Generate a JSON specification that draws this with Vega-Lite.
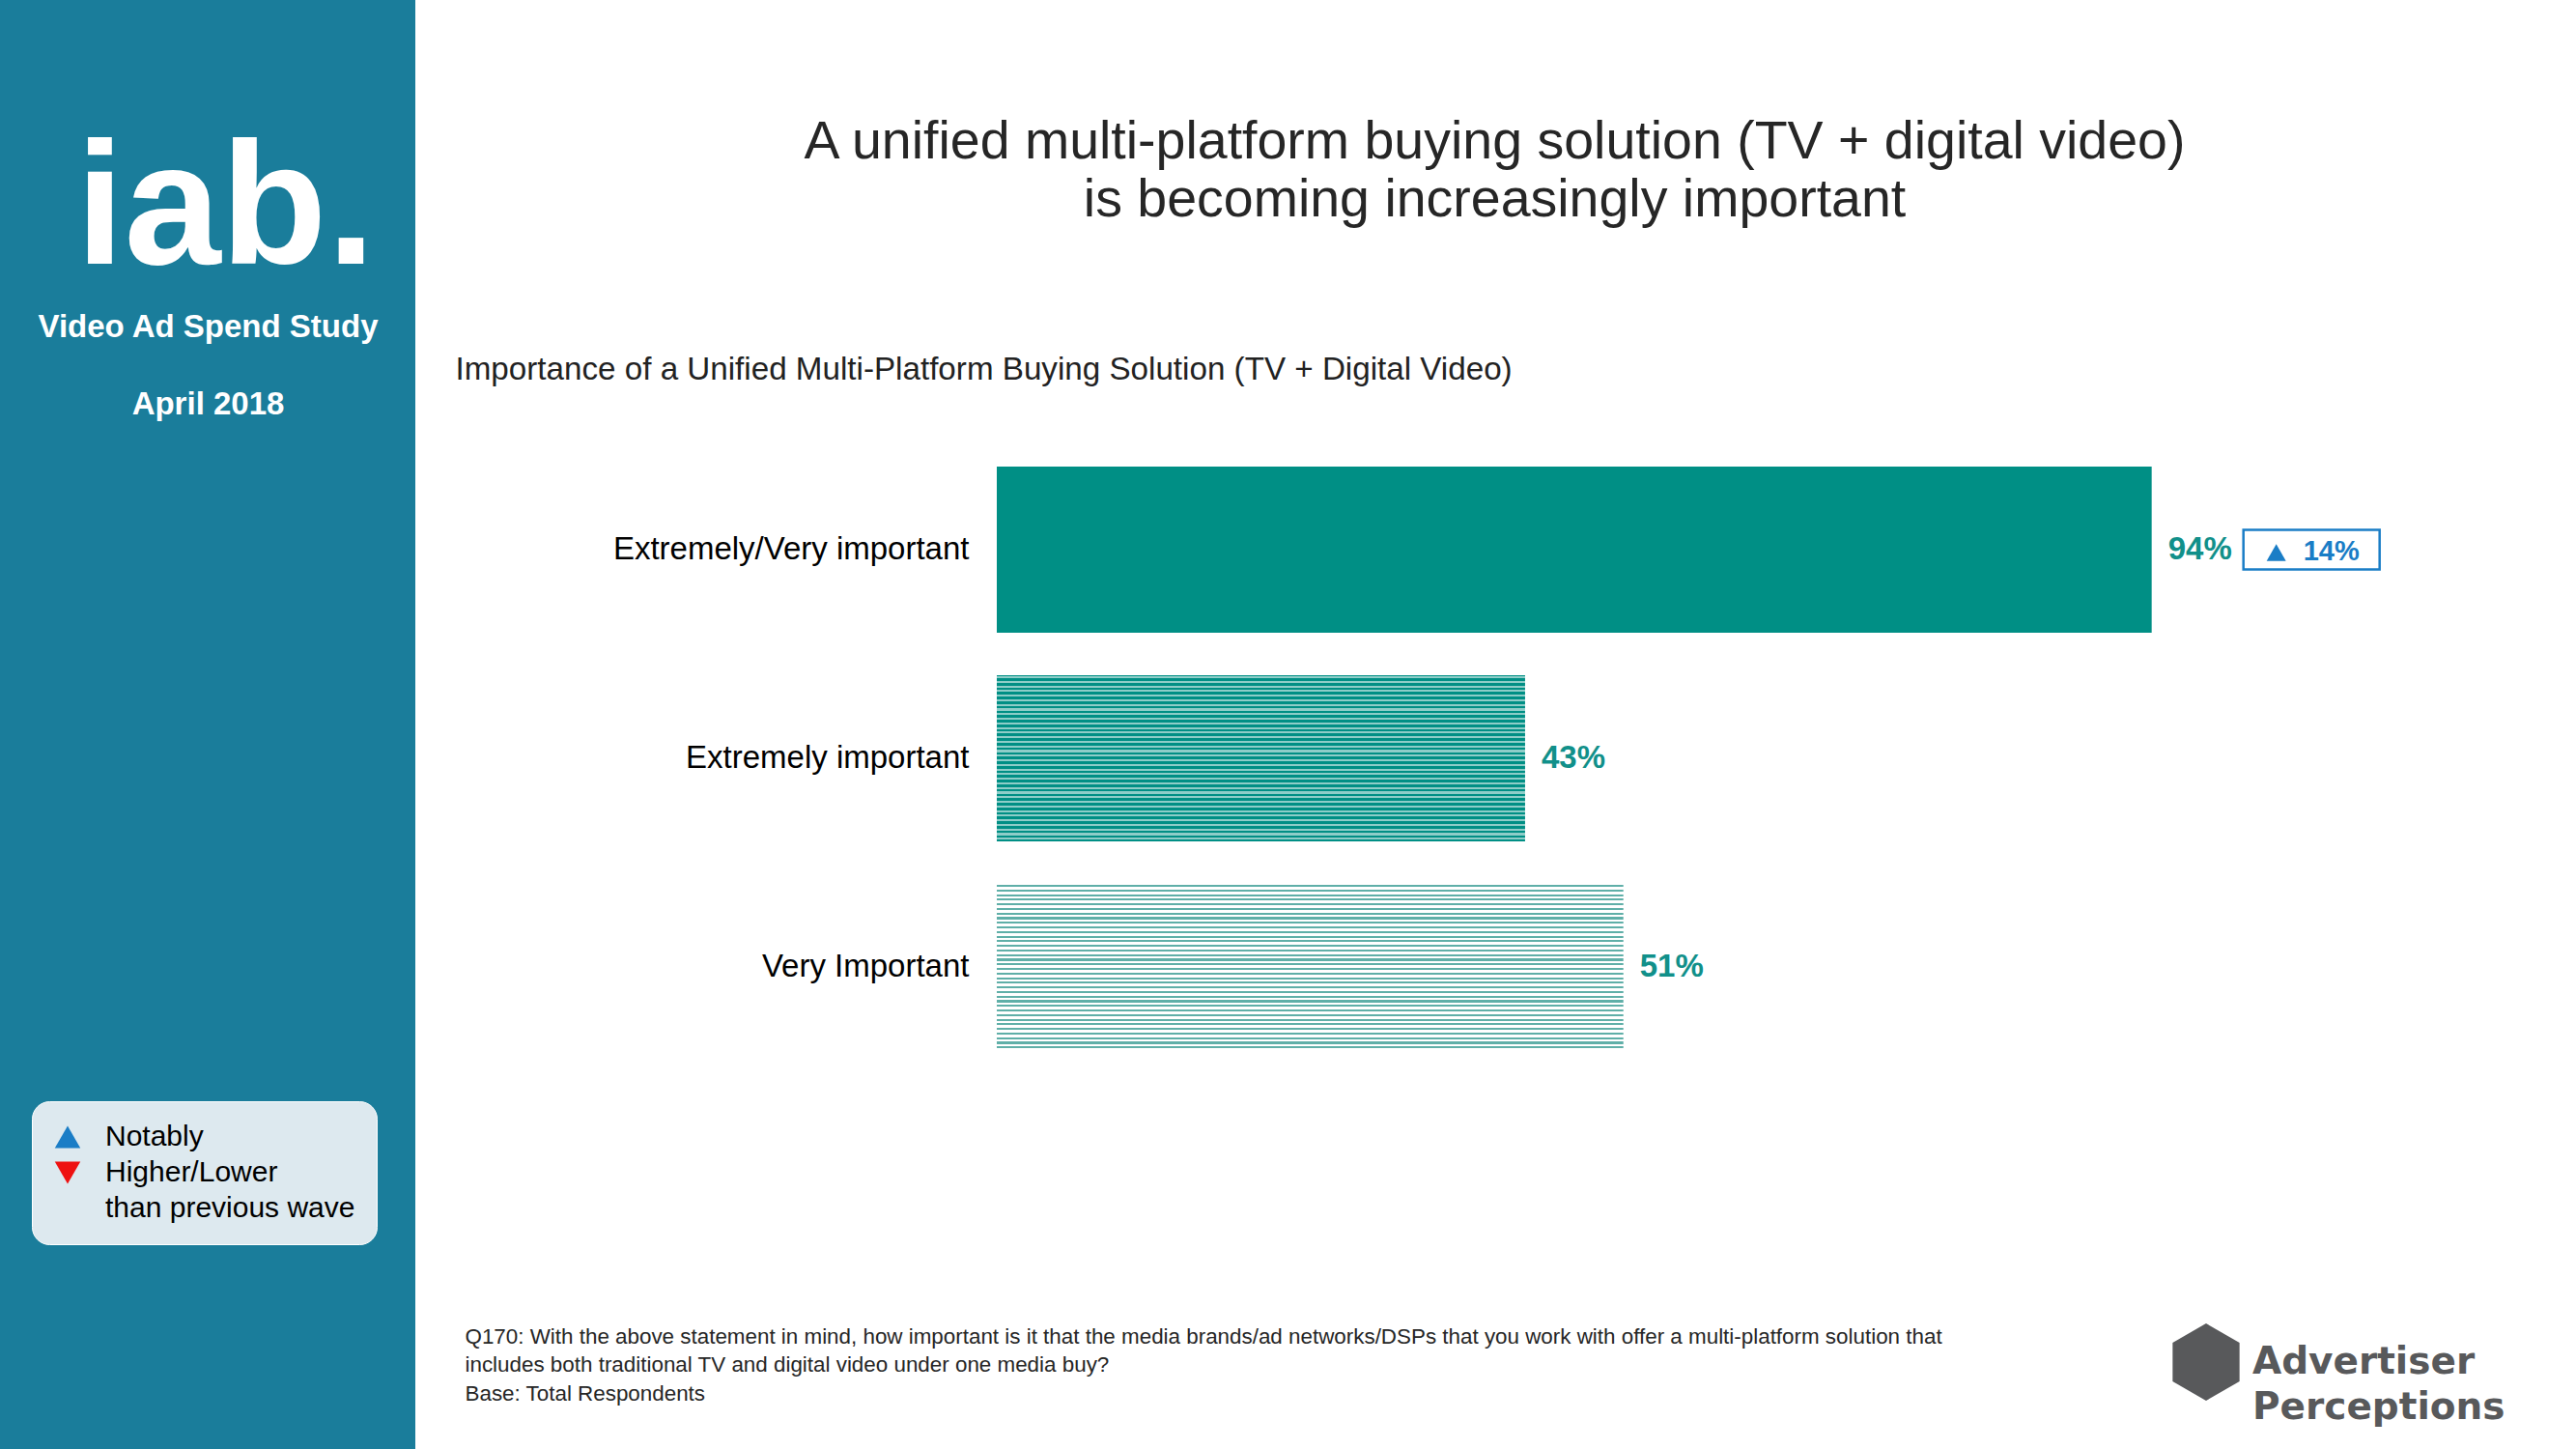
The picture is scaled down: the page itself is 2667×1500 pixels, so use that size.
{
  "$schema": "https://vega.github.io/schema/vega-lite/v6.json",
  "width": 2237,
  "height": 1500,
  "autosize": {"type": "none"},
  "padding": {"left": 430, "top": 0, "right": 0, "bottom": 0},
  "background": "#1A7D9B",
  "config": {"view": {"fill": "#FFFFFF", "stroke": null}, "font": "Liberation Sans", "style": {"guide-label": {"lineHeight": 36.5}}},
  "data": {
    "values": [
      {"cat": "Extremely/Very important", "pct": 0.94, "change": 0.14, "direction": "Higher", "source": "Advertiser Perceptions"},
      {"cat": "Extremely important", "pct": 0.43},
      {"cat": "Very Important", "pct": 0.51}
    ]
  },
  "resolve": {"axis": {"x": "independent", "y": "independent"}},
  "layer": [
    {
      "mark": {"type": "bar"},
      "encoding": {
        "x": {
          "field": "pct", "type": "quantitative",
          "scale": {"domain": [-0.47327, 1.28538], "nice": false},
          "axis": {
            "orient": "top", "domain": false, "ticks": false, "labels": false, "grid": false,
            "title": ["A unified multi-platform buying solution (TV + digital video)", "is becoming increasingly important"],
            "titleX": 1117, "titleY": 163, "titleAlign": "center", "titleBaseline": "alphabetic", "titleAngle": 0,
            "titleFont": "Liberation Sans", "titleFontSize": 55.5, "titleFontWeight": "normal", "titleColor": "#262626",
            "titleLineHeight": 60, "titleLimit": 3000
          }
        },
        "y": {
          "field": "cat", "type": "nominal", "sort": null,
          "scale": {"domain": ["Extremely/Very important", "Extremely important", "Very Important"], "range": [483, 1087], "paddingInner": 0.2037, "paddingOuter": 0},
          "axis": {
            "orient": "left", "offset": -602, "domain": false, "ticks": false, "grid": false,
            "labelPadding": 29, "labelFont": "Liberation Sans", "labelFontSize": 33, "labelColor": "#000000", "labelLimit": 800,
            "title": null
          }
        },
        "fill": {
          "condition": [
            {"test": "datum.cat === 'Extremely important'", "value": {"gradient": "linear", "x1": 0, "y1": 0, "x2": 0, "y2": 1, "stops": [
              {"offset":0.006,"color":"#008F85"},{"offset":0.006,"color":"#8ECDC8"},{"offset":0.018,"color":"#8ECDC8"},{"offset":0.018,"color":"#008F85"},
              {"offset":0.0338,"color":"#008F85"},{"offset":0.0338,"color":"#8ECDC8"},{"offset":0.0458,"color":"#8ECDC8"},{"offset":0.0458,"color":"#008F85"},
              {"offset":0.0616,"color":"#008F85"},{"offset":0.0616,"color":"#8ECDC8"},{"offset":0.0736,"color":"#8ECDC8"},{"offset":0.0736,"color":"#008F85"},
              {"offset":0.0893,"color":"#008F85"},{"offset":0.0893,"color":"#8ECDC8"},{"offset":0.1013,"color":"#8ECDC8"},{"offset":0.1013,"color":"#008F85"},
              {"offset":0.1171,"color":"#008F85"},{"offset":0.1171,"color":"#8ECDC8"},{"offset":0.1291,"color":"#8ECDC8"},{"offset":0.1291,"color":"#008F85"},
              {"offset":0.1449,"color":"#008F85"},{"offset":0.1449,"color":"#8ECDC8"},{"offset":0.1569,"color":"#8ECDC8"},{"offset":0.1569,"color":"#008F85"},
              {"offset":0.1727,"color":"#008F85"},{"offset":0.1727,"color":"#8ECDC8"},{"offset":0.1847,"color":"#8ECDC8"},{"offset":0.1847,"color":"#008F85"},
              {"offset":0.2004,"color":"#008F85"},{"offset":0.2004,"color":"#8ECDC8"},{"offset":0.2124,"color":"#8ECDC8"},{"offset":0.2124,"color":"#008F85"},
              {"offset":0.2282,"color":"#008F85"},{"offset":0.2282,"color":"#8ECDC8"},{"offset":0.2402,"color":"#8ECDC8"},{"offset":0.2402,"color":"#008F85"},
              {"offset":0.256,"color":"#008F85"},{"offset":0.256,"color":"#8ECDC8"},{"offset":0.268,"color":"#8ECDC8"},{"offset":0.268,"color":"#008F85"},
              {"offset":0.2838,"color":"#008F85"},{"offset":0.2838,"color":"#8ECDC8"},{"offset":0.2958,"color":"#8ECDC8"},{"offset":0.2958,"color":"#008F85"},
              {"offset":0.3116,"color":"#008F85"},{"offset":0.3116,"color":"#8ECDC8"},{"offset":0.3236,"color":"#8ECDC8"},{"offset":0.3236,"color":"#008F85"},
              {"offset":0.3393,"color":"#008F85"},{"offset":0.3393,"color":"#8ECDC8"},{"offset":0.3513,"color":"#8ECDC8"},{"offset":0.3513,"color":"#008F85"},
              {"offset":0.3671,"color":"#008F85"},{"offset":0.3671,"color":"#8ECDC8"},{"offset":0.3791,"color":"#8ECDC8"},{"offset":0.3791,"color":"#008F85"},
              {"offset":0.3949,"color":"#008F85"},{"offset":0.3949,"color":"#8ECDC8"},{"offset":0.4069,"color":"#8ECDC8"},{"offset":0.4069,"color":"#008F85"},
              {"offset":0.4227,"color":"#008F85"},{"offset":0.4227,"color":"#8ECDC8"},{"offset":0.4347,"color":"#8ECDC8"},{"offset":0.4347,"color":"#008F85"},
              {"offset":0.4504,"color":"#008F85"},{"offset":0.4504,"color":"#8ECDC8"},{"offset":0.4624,"color":"#8ECDC8"},{"offset":0.4624,"color":"#008F85"},
              {"offset":0.4782,"color":"#008F85"},{"offset":0.4782,"color":"#8ECDC8"},{"offset":0.4902,"color":"#8ECDC8"},{"offset":0.4902,"color":"#008F85"},
              {"offset":0.506,"color":"#008F85"},{"offset":0.506,"color":"#8ECDC8"},{"offset":0.518,"color":"#8ECDC8"},{"offset":0.518,"color":"#008F85"},
              {"offset":0.5338,"color":"#008F85"},{"offset":0.5338,"color":"#8ECDC8"},{"offset":0.5458,"color":"#8ECDC8"},{"offset":0.5458,"color":"#008F85"},
              {"offset":0.5616,"color":"#008F85"},{"offset":0.5616,"color":"#8ECDC8"},{"offset":0.5736,"color":"#8ECDC8"},{"offset":0.5736,"color":"#008F85"},
              {"offset":0.5893,"color":"#008F85"},{"offset":0.5893,"color":"#8ECDC8"},{"offset":0.6013,"color":"#8ECDC8"},{"offset":0.6013,"color":"#008F85"},
              {"offset":0.6171,"color":"#008F85"},{"offset":0.6171,"color":"#8ECDC8"},{"offset":0.6291,"color":"#8ECDC8"},{"offset":0.6291,"color":"#008F85"},
              {"offset":0.6449,"color":"#008F85"},{"offset":0.6449,"color":"#8ECDC8"},{"offset":0.6569,"color":"#8ECDC8"},{"offset":0.6569,"color":"#008F85"},
              {"offset":0.6727,"color":"#008F85"},{"offset":0.6727,"color":"#8ECDC8"},{"offset":0.6847,"color":"#8ECDC8"},{"offset":0.6847,"color":"#008F85"},
              {"offset":0.7004,"color":"#008F85"},{"offset":0.7004,"color":"#8ECDC8"},{"offset":0.7124,"color":"#8ECDC8"},{"offset":0.7124,"color":"#008F85"},
              {"offset":0.7282,"color":"#008F85"},{"offset":0.7282,"color":"#8ECDC8"},{"offset":0.7402,"color":"#8ECDC8"},{"offset":0.7402,"color":"#008F85"},
              {"offset":0.756,"color":"#008F85"},{"offset":0.756,"color":"#8ECDC8"},{"offset":0.768,"color":"#8ECDC8"},{"offset":0.768,"color":"#008F85"},
              {"offset":0.7838,"color":"#008F85"},{"offset":0.7838,"color":"#8ECDC8"},{"offset":0.7958,"color":"#8ECDC8"},{"offset":0.7958,"color":"#008F85"},
              {"offset":0.8116,"color":"#008F85"},{"offset":0.8116,"color":"#8ECDC8"},{"offset":0.8236,"color":"#8ECDC8"},{"offset":0.8236,"color":"#008F85"},
              {"offset":0.8393,"color":"#008F85"},{"offset":0.8393,"color":"#8ECDC8"},{"offset":0.8513,"color":"#8ECDC8"},{"offset":0.8513,"color":"#008F85"},
              {"offset":0.8671,"color":"#008F85"},{"offset":0.8671,"color":"#8ECDC8"},{"offset":0.8791,"color":"#8ECDC8"},{"offset":0.8791,"color":"#008F85"},
              {"offset":0.8949,"color":"#008F85"},{"offset":0.8949,"color":"#8ECDC8"},{"offset":0.9069,"color":"#8ECDC8"},{"offset":0.9069,"color":"#008F85"},
              {"offset":0.9227,"color":"#008F85"},{"offset":0.9227,"color":"#8ECDC8"},{"offset":0.9347,"color":"#8ECDC8"},{"offset":0.9347,"color":"#008F85"},
              {"offset":0.9504,"color":"#008F85"},{"offset":0.9504,"color":"#8ECDC8"},{"offset":0.9624,"color":"#8ECDC8"},{"offset":0.9624,"color":"#008F85"},
              {"offset":0.9782,"color":"#008F85"},{"offset":0.9782,"color":"#8ECDC8"},{"offset":0.9902,"color":"#8ECDC8"},{"offset":0.9902,"color":"#008F85"}
            ]}},
            {"test": "datum.cat === 'Very Important'", "value": {"gradient": "linear", "x1": 0, "y1": 0, "x2": 0, "y2": 1, "stops": [
              {"offset":0.006,"color":"#FFFFFF"},{"offset":0.006,"color":"#5FAFA8"},{"offset":0.018,"color":"#5FAFA8"},{"offset":0.018,"color":"#FFFFFF"},
              {"offset":0.0338,"color":"#FFFFFF"},{"offset":0.0338,"color":"#5FAFA8"},{"offset":0.0458,"color":"#5FAFA8"},{"offset":0.0458,"color":"#FFFFFF"},
              {"offset":0.0616,"color":"#FFFFFF"},{"offset":0.0616,"color":"#5FAFA8"},{"offset":0.0736,"color":"#5FAFA8"},{"offset":0.0736,"color":"#FFFFFF"},
              {"offset":0.0893,"color":"#FFFFFF"},{"offset":0.0893,"color":"#5FAFA8"},{"offset":0.1013,"color":"#5FAFA8"},{"offset":0.1013,"color":"#FFFFFF"},
              {"offset":0.1171,"color":"#FFFFFF"},{"offset":0.1171,"color":"#5FAFA8"},{"offset":0.1291,"color":"#5FAFA8"},{"offset":0.1291,"color":"#FFFFFF"},
              {"offset":0.1449,"color":"#FFFFFF"},{"offset":0.1449,"color":"#5FAFA8"},{"offset":0.1569,"color":"#5FAFA8"},{"offset":0.1569,"color":"#FFFFFF"},
              {"offset":0.1727,"color":"#FFFFFF"},{"offset":0.1727,"color":"#5FAFA8"},{"offset":0.1847,"color":"#5FAFA8"},{"offset":0.1847,"color":"#FFFFFF"},
              {"offset":0.2004,"color":"#FFFFFF"},{"offset":0.2004,"color":"#5FAFA8"},{"offset":0.2124,"color":"#5FAFA8"},{"offset":0.2124,"color":"#FFFFFF"},
              {"offset":0.2282,"color":"#FFFFFF"},{"offset":0.2282,"color":"#5FAFA8"},{"offset":0.2402,"color":"#5FAFA8"},{"offset":0.2402,"color":"#FFFFFF"},
              {"offset":0.256,"color":"#FFFFFF"},{"offset":0.256,"color":"#5FAFA8"},{"offset":0.268,"color":"#5FAFA8"},{"offset":0.268,"color":"#FFFFFF"},
              {"offset":0.2838,"color":"#FFFFFF"},{"offset":0.2838,"color":"#5FAFA8"},{"offset":0.2958,"color":"#5FAFA8"},{"offset":0.2958,"color":"#FFFFFF"},
              {"offset":0.3116,"color":"#FFFFFF"},{"offset":0.3116,"color":"#5FAFA8"},{"offset":0.3236,"color":"#5FAFA8"},{"offset":0.3236,"color":"#FFFFFF"},
              {"offset":0.3393,"color":"#FFFFFF"},{"offset":0.3393,"color":"#5FAFA8"},{"offset":0.3513,"color":"#5FAFA8"},{"offset":0.3513,"color":"#FFFFFF"},
              {"offset":0.3671,"color":"#FFFFFF"},{"offset":0.3671,"color":"#5FAFA8"},{"offset":0.3791,"color":"#5FAFA8"},{"offset":0.3791,"color":"#FFFFFF"},
              {"offset":0.3949,"color":"#FFFFFF"},{"offset":0.3949,"color":"#5FAFA8"},{"offset":0.4069,"color":"#5FAFA8"},{"offset":0.4069,"color":"#FFFFFF"},
              {"offset":0.4227,"color":"#FFFFFF"},{"offset":0.4227,"color":"#5FAFA8"},{"offset":0.4347,"color":"#5FAFA8"},{"offset":0.4347,"color":"#FFFFFF"},
              {"offset":0.4504,"color":"#FFFFFF"},{"offset":0.4504,"color":"#5FAFA8"},{"offset":0.4624,"color":"#5FAFA8"},{"offset":0.4624,"color":"#FFFFFF"},
              {"offset":0.4782,"color":"#FFFFFF"},{"offset":0.4782,"color":"#5FAFA8"},{"offset":0.4902,"color":"#5FAFA8"},{"offset":0.4902,"color":"#FFFFFF"},
              {"offset":0.506,"color":"#FFFFFF"},{"offset":0.506,"color":"#5FAFA8"},{"offset":0.518,"color":"#5FAFA8"},{"offset":0.518,"color":"#FFFFFF"},
              {"offset":0.5338,"color":"#FFFFFF"},{"offset":0.5338,"color":"#5FAFA8"},{"offset":0.5458,"color":"#5FAFA8"},{"offset":0.5458,"color":"#FFFFFF"},
              {"offset":0.5616,"color":"#FFFFFF"},{"offset":0.5616,"color":"#5FAFA8"},{"offset":0.5736,"color":"#5FAFA8"},{"offset":0.5736,"color":"#FFFFFF"},
              {"offset":0.5893,"color":"#FFFFFF"},{"offset":0.5893,"color":"#5FAFA8"},{"offset":0.6013,"color":"#5FAFA8"},{"offset":0.6013,"color":"#FFFFFF"},
              {"offset":0.6171,"color":"#FFFFFF"},{"offset":0.6171,"color":"#5FAFA8"},{"offset":0.6291,"color":"#5FAFA8"},{"offset":0.6291,"color":"#FFFFFF"},
              {"offset":0.6449,"color":"#FFFFFF"},{"offset":0.6449,"color":"#5FAFA8"},{"offset":0.6569,"color":"#5FAFA8"},{"offset":0.6569,"color":"#FFFFFF"},
              {"offset":0.6727,"color":"#FFFFFF"},{"offset":0.6727,"color":"#5FAFA8"},{"offset":0.6847,"color":"#5FAFA8"},{"offset":0.6847,"color":"#FFFFFF"},
              {"offset":0.7004,"color":"#FFFFFF"},{"offset":0.7004,"color":"#5FAFA8"},{"offset":0.7124,"color":"#5FAFA8"},{"offset":0.7124,"color":"#FFFFFF"},
              {"offset":0.7282,"color":"#FFFFFF"},{"offset":0.7282,"color":"#5FAFA8"},{"offset":0.7402,"color":"#5FAFA8"},{"offset":0.7402,"color":"#FFFFFF"},
              {"offset":0.756,"color":"#FFFFFF"},{"offset":0.756,"color":"#5FAFA8"},{"offset":0.768,"color":"#5FAFA8"},{"offset":0.768,"color":"#FFFFFF"},
              {"offset":0.7838,"color":"#FFFFFF"},{"offset":0.7838,"color":"#5FAFA8"},{"offset":0.7958,"color":"#5FAFA8"},{"offset":0.7958,"color":"#FFFFFF"},
              {"offset":0.8116,"color":"#FFFFFF"},{"offset":0.8116,"color":"#5FAFA8"},{"offset":0.8236,"color":"#5FAFA8"},{"offset":0.8236,"color":"#FFFFFF"},
              {"offset":0.8393,"color":"#FFFFFF"},{"offset":0.8393,"color":"#5FAFA8"},{"offset":0.8513,"color":"#5FAFA8"},{"offset":0.8513,"color":"#FFFFFF"},
              {"offset":0.8671,"color":"#FFFFFF"},{"offset":0.8671,"color":"#5FAFA8"},{"offset":0.8791,"color":"#5FAFA8"},{"offset":0.8791,"color":"#FFFFFF"},
              {"offset":0.8949,"color":"#FFFFFF"},{"offset":0.8949,"color":"#5FAFA8"},{"offset":0.9069,"color":"#5FAFA8"},{"offset":0.9069,"color":"#FFFFFF"},
              {"offset":0.9227,"color":"#FFFFFF"},{"offset":0.9227,"color":"#5FAFA8"},{"offset":0.9347,"color":"#5FAFA8"},{"offset":0.9347,"color":"#FFFFFF"},
              {"offset":0.9504,"color":"#FFFFFF"},{"offset":0.9504,"color":"#5FAFA8"},{"offset":0.9624,"color":"#5FAFA8"},{"offset":0.9624,"color":"#FFFFFF"},
              {"offset":0.9782,"color":"#FFFFFF"},{"offset":0.9782,"color":"#5FAFA8"},{"offset":0.9902,"color":"#5FAFA8"},{"offset":0.9902,"color":"#FFFFFF"}
            ]}}
          ],
          "value": "#008F85"
        }
      }
    },
    {
      "mark": {"type": "text", "align": "left", "baseline": "middle", "dx": 17, "font": "Liberation Sans", "fontSize": 33, "fontWeight": "bold", "color": "#11908A"},
      "encoding": {
        "x": {
          "field": "pct", "type": "quantitative",
          "axis": {
            "orient": "top", "domain": false, "ticks": false, "labels": false, "grid": false,
            "title": "Importance of a Unified Multi-Platform Buying Solution (TV + Digital Video)",
            "titleX": 41, "titleY": 392, "titleAlign": "left", "titleBaseline": "alphabetic", "titleAngle": 0,
            "titleFont": "Liberation Sans", "titleFontSize": 33.2, "titleFontWeight": "normal", "titleColor": "#222222", "titleLimit": 3000
          }
        },
        "y": {
          "field": "cat", "type": "nominal", "sort": null,
          "axis": {
            "orient": "right", "domain": false, "ticks": false, "labels": false, "grid": false,
            "title": "iab.",
            "titleX": -2434, "titleY": 272, "titleAlign": "center", "titleBaseline": "alphabetic", "titleAngle": 0,
            "titleFont": "Liberation Sans", "titleFontSize": 180, "titleFontWeight": "bold", "titleColor": "#FFFFFF", "titleLimit": 3000
          }
        },
        "text": {"field": "pct", "type": "quantitative", "format": ".0%"}
      }
    },
    {
      "transform": [{"filter": "datum.change != null"}],
      "mark": {"type": "bar", "fill": "#FFFFFF", "stroke": "#1A7DC6", "strokeWidth": 2.5, "xOffset": 95, "x2Offset": 236, "height": 41},
      "encoding": {
        "x": {
          "field": "pct", "type": "quantitative",
          "axis": {
            "orient": "bottom", "domain": false, "ticks": false, "labels": false, "grid": false,
            "title": [
              "Q170: With the above statement in mind, how important is it that the media brands/ad networks/DSPs that you work with offer a multi-platform solution that",
              "includes both traditional TV and digital video under one media buy?",
              "Base: Total Respondents"
            ],
            "titleX": 51, "titleY": -110, "titleAlign": "left", "titleBaseline": "alphabetic", "titleAngle": 0,
            "titleFont": "Liberation Sans", "titleFontSize": 22.4, "titleFontWeight": "normal", "titleColor": "#262626",
            "titleLineHeight": 29.5, "titleLimit": 3000
          }
        },
        "x2": {"field": "pct"},
        "y": {
          "field": "cat", "type": "nominal", "sort": null,
          "axis": {
            "orient": "left", "domain": false, "ticks": false, "labels": false, "grid": false,
            "title": ["Video Ad Spend Study", "April 2018"],
            "titleX": -215, "titleY": 348, "titleAlign": "center", "titleBaseline": "alphabetic", "titleAngle": 0,
            "titleFont": "Liberation Sans", "titleFontSize": 33, "titleFontWeight": "bold", "titleColor": "#FFFFFF",
            "titleLineHeight": 80, "titleLimit": 3000
          }
        }
      }
    },
    {
      "transform": [{"filter": "datum.change != null"}],
      "mark": {"type": "point", "filled": true, "size": 400, "opacity": 1, "xOffset": 129, "yOffset": 3},
      "encoding": {
        "x": {"field": "pct", "type": "quantitative", "axis": null},
        "y": {"field": "cat", "type": "nominal", "sort": null, "axis": null},
        "color": {
          "field": "direction", "type": "nominal",
          "scale": {"domain": ["Higher", "Lower"], "range": ["#1A7DC6", "#EE1111"]},
          "legend": {
            "orient": "none", "legendX": -397, "legendY": 1140, "title": null,
            "fillColor": "#DDE9EF", "strokeColor": "#FFFFFF", "cornerRadius": 18, "padding": 22,
            "symbolSize": 700, "symbolStrokeWidth": 0, "rowPadding": 7,
            "labelFont": "Liberation Sans", "labelFontSize": 30, "labelColor": "#000000", "labelOffset": 24, "labelLimit": 500,
            "labelExpr": "datum.label == 'Higher' ? 'Notably' : ['Higher/Lower', 'than previous wave']",
            "encode": {"labels": {"update": {"lineHeight": {"value": 36.5}}}}
          }
        },
        "shape": {
          "field": "direction", "type": "nominal",
          "scale": {"domain": ["Higher", "Lower"], "range": ["triangle-up", "triangle-down"]},
          "legend": {
            "orient": "none", "legendX": -397, "legendY": 1140, "title": null,
            "fillColor": "#DDE9EF", "strokeColor": "#FFFFFF", "cornerRadius": 18, "padding": 22,
            "symbolSize": 700, "symbolStrokeWidth": 0, "rowPadding": 7,
            "labelFont": "Liberation Sans", "labelFontSize": 30, "labelColor": "#000000", "labelOffset": 24, "labelLimit": 500,
            "labelExpr": "datum.label == 'Higher' ? 'Notably' : ['Higher/Lower', 'than previous wave']",
            "encode": {"labels": {"update": {"lineHeight": {"value": 36.5}}}}
          }
        },
        "opacity": {
          "field": "source", "type": "nominal",
          "scale": {"range": [1]},
          "legend": {
            "orient": "none", "legendX": 1814, "legendY": 1370, "title": null, "padding": 0,
            "symbolType": "M0,-1L0.866,-0.5L0.866,0.5L0,1L-0.866,0.5L-0.866,-0.5Z",
            "symbolSize": 6400, "symbolFillColor": "#58595B", "symbolStrokeWidth": 0,
            "labelFont": "DejaVu Sans", "labelFontSize": 39, "labelFontWeight": "bold", "labelColor": "#58595B",
            "labelOffset": 8, "labelLimit": 600,
            "labelExpr": "split(datum.label, ' ')",
            "encode": {"labels": {"update": {"lineHeight": {"value": 47}}}}
          }
        }
      }
    },
    {
      "transform": [{"filter": "datum.change != null"}],
      "mark": {"type": "text", "align": "left", "baseline": "middle", "dx": 157, "dy": 2, "font": "Liberation Sans", "fontSize": 29, "fontWeight": "bold", "color": "#1A7DC6"},
      "encoding": {
        "x": {"field": "pct", "type": "quantitative", "axis": null},
        "y": {"field": "cat", "type": "nominal", "sort": null, "axis": null},
        "text": {"field": "change", "type": "quantitative", "format": ".0%"}
      }
    }
  ]
}
